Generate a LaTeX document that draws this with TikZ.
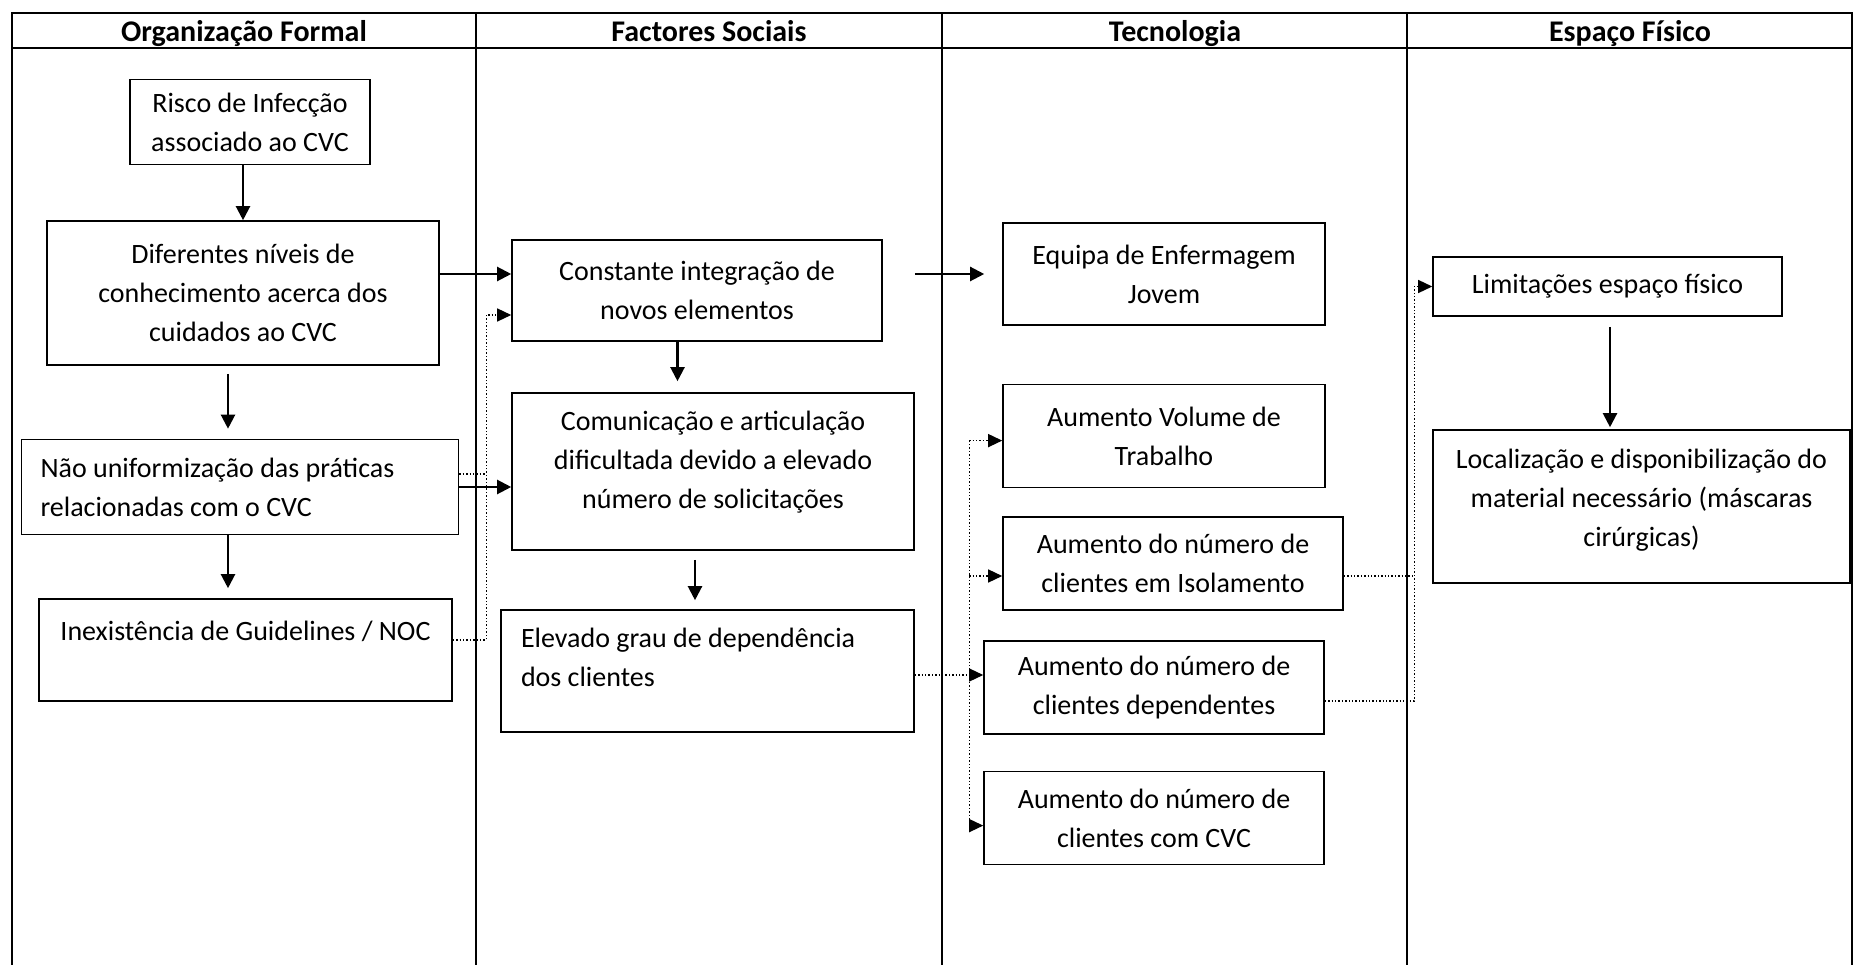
\documentclass[tikz,border=0pt]{standalone}
\usepackage{fontspec}
\setmainfont{Carlito}
\usetikzlibrary{arrows.meta, positioning, calc}

\begin{document}
\begin{tikzpicture}[x=1pt, y=-1pt,
      box/.style={draw, line width=1.6pt, font=\fontsize{28}{39}\selectfont, align=center, inner sep=0pt},
      head/.style={font=\fontsize{30}{36}\selectfont\bfseries, anchor=base},
      rule/.style={line width=1.8pt},
      arrow/.style={-{Triangle[length=14pt, width=14pt]}, line width=2.2pt},
      dots/.style={dotted, line width=1.4pt},
      darrow/.style={dots, -{Triangle[length=14pt, width=13pt]}}
    ]
      \useasboundingbox (0,0) rectangle (1854,965);

      % table frame and columns
      \draw[rule] (12,965) -- (12,13) -- (1852,13) -- (1852,965);
      \draw[rule] (12,48) -- (1852,48);
      \foreach \x in {476,942,1407} \draw[rule] (\x,13) -- (\x,965);

      \node[head] (hOrg) at (244,42) {Organização Formal};
      \node[head] (hSoc) at (709,42) {Factores Sociais};
      \node[head] (hTec) at (1175,42) {Tecnologia};
      \node[head] (hEsp) at (1630,42) {Espaço Físico};

      % Organização Formal
      \node[box, minimum width=240pt, minimum height=85pt] (risco) at (250,122) {Risco de Infecção\\associado ao CVC};
      \node[box, minimum width=392pt, minimum height=144pt] (dif) at (243,293) {Diferentes níveis de\\conhecimento acerca dos\\cuidados ao CVC};
      \node[box, align=flush left, text width=399pt, inner xsep=19pt, minimum height=95pt] (nao) at (240,487) {Não uniformização das práticas\\relacionadas com o CVC};
      \node[box, minimum width=413pt, minimum height=102pt] (inex) at (245.5,650) {Inexistência de Guidelines / NOC\\~};

      % Factores Sociais
      \node[box, minimum width=370pt, minimum height=101pt] (const) at (697,290.5) {Constante integração de\\novos elementos};
      \node[box, minimum width=402pt, minimum height=157pt] (comun) at (713,471.5) {Comunicação e articulação\\dificultada devido a elevado\\número de solicitações\\[-16pt]~};
      \node[box, align=flush left, text width=373pt, inner xsep=20pt, minimum height=122pt] (elev) at (707.5,671) {Elevado grau de dependência\\dos clientes\\[-12pt]~};

      % Tecnologia
      \node[box, minimum width=322pt, minimum height=102pt] (equipa) at (1164,274) {Equipa de Enfermagem\\Jovem};
      \node[box, minimum width=322pt, minimum height=103pt, below=58pt of equipa] (volume) {Aumento Volume de\\Trabalho};
      \node[box, minimum width=340pt, minimum height=93pt] (isol) at (1173,563.5) {Aumento do número de\\clientes em Isolamento};
      \node[box, minimum width=340pt, minimum height=93pt] (dep) at (1154,687.5) {Aumento do número de\\clientes dependentes};
      \node[box, minimum width=340pt, minimum height=93pt, below=36pt of dep] (cvc) {Aumento do número de\\clientes com CVC};

      % Espaço Físico
      \node[box, minimum width=349pt, minimum height=59pt] (limit) at (1607.5,286.5) {Limitações espaço físico};
      \node[box, minimum width=417pt, minimum height=153pt] (local) at (1641.5,506.5) {Localização e disponibilização do\\material necessário (máscaras\\cirúrgicas)\\[-22pt]~};

      \coordinate (busA) at ([xshift=-25pt]const.west);
      \coordinate (busB) at ([xshift=-33pt]volume.west);
      \coordinate (busC) at ([xshift=-18pt]limit.west);

      % solid links
      \draw[arrow] (risco.south -| dif.north) -- (dif.north);
      \draw[arrow, shorten <=8pt, shorten >=10pt] ([xshift=-15pt]dif.south) -- ([xshift=-15pt]dif.south |- nao.north);
      \draw[arrow, shorten >=10pt] ([xshift=-12pt]nao.south) -- ([xshift=-12pt]nao.south |- inex.north);
      \draw[arrow] ([yshift=19pt]dif.east) -- ([yshift=19pt]dif.east -| const.west);
      \draw[arrow] (nao.east) -- (nao.east -| comun.west);
      \draw[arrow, shorten >=11pt] ([xshift=-19.5pt]const.south) -- ([xshift=-19.5pt]const.south |- comun.north);
      \draw[arrow, shorten <=9pt, shorten >=9pt] ([xshift=-18pt]comun.south) -- ([xshift=-18pt]comun.south |- elev.north);
      \draw[arrow, shorten <=32pt, shorten >=18pt] ([yshift=16.5pt]const.east) -- ([yshift=16.5pt]const.east -| equipa.west);
      \draw[arrow, shorten <=10pt, shorten >=2pt] ([xshift=2.5pt]limit.south) -- ([xshift=2.5pt]limit.south |- local.north);

      % dotted links
      \draw[dots] ([yshift=13pt]nao.east) -- ([yshift=13pt]nao.east -| busA);
      \draw[darrow] ([yshift=10pt]inex.east) -| ([yshift=-24.5pt]const.west -| busA) -- ([yshift=-24.5pt]const.west);

      \draw[dots] ([yshift=-4.5pt]volume.west -| busB) -- ([yshift=-7.5pt]cvc.west -| busB);
      \draw[darrow] ([yshift=-4.5pt]volume.west -| busB) -- ([yshift=-4.5pt]volume.west);
      \draw[darrow] ([yshift=-12.5pt]isol.west -| busB) -- ([yshift=-12.5pt]isol.west);
      \draw[darrow] ([yshift=-4pt]elev.east) -- ([yshift=-4pt]elev.east -| dep.west);
      \draw[darrow] ([yshift=-7.5pt]cvc.west -| busB) -- ([yshift=-7.5pt]cvc.west);

      \draw[dots] ([yshift=-12.5pt]isol.east) -- ([yshift=-12.5pt]isol.east -| busC);
      \draw[darrow] ([yshift=-13.5pt]dep.east) -| (limit.west -| busC) -- (limit.west);
    \end{tikzpicture}
\end{document}
